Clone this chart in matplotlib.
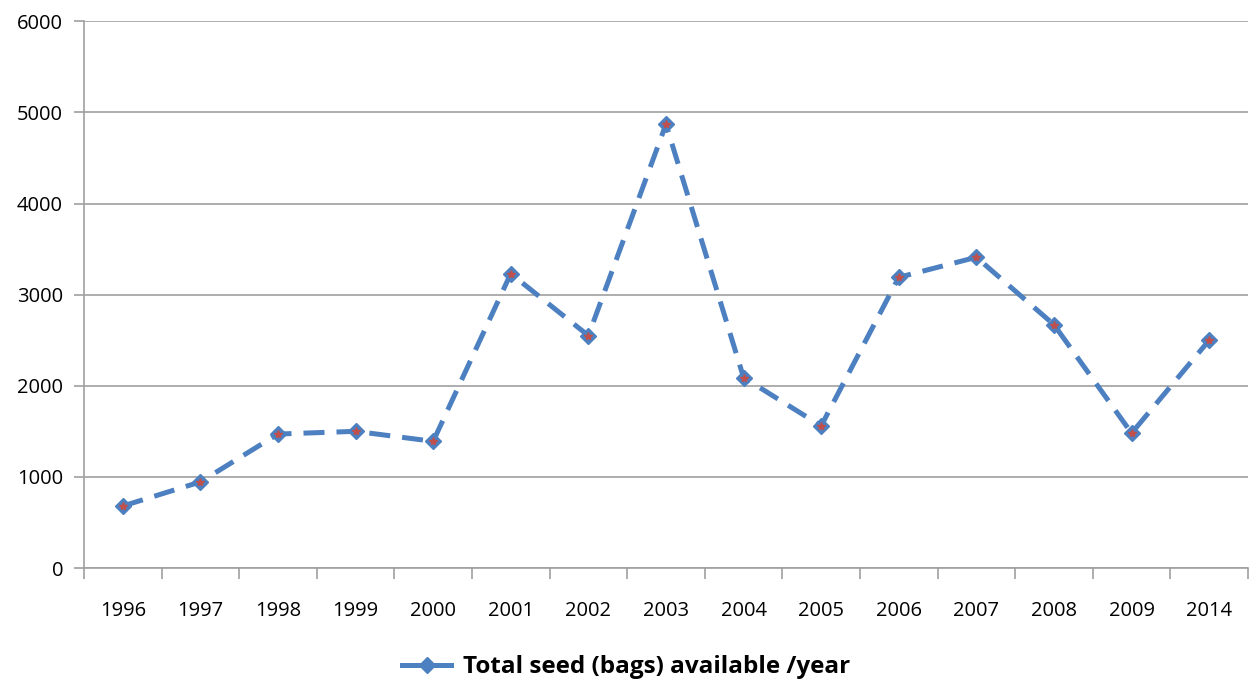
import matplotlib.pyplot as plt
import numpy as np
from matplotlib.lines import Line2D

years = ["1996", "1997", "1998", "1999", "2000", "2001", "2002", "2003",
         "2004", "2005", "2006", "2007", "2008", "2009", "2014"]
seed_bags = [680, 945, 1470, 1500, 1390, 3230, 2550, 4870,
             2090, 1560, 3190, 3410, 2670, 1480, 2500]

plt.rcParams['font.family'] = ['Open Sans', 'DejaVu Sans']

fig = plt.figure(figsize=(12.53, 6.86), dpi=100)
ax = fig.add_axes([0.067, 0.172, 0.929, 0.797])

x = np.arange(len(years))
line_col = '#4d80c0'
ax.plot(x, seed_bags, color=line_col, linewidth=3.6, linestyle=(0, (4.2, 2.4)),
        marker='D', markersize=8, markerfacecolor=line_col, markeredgecolor=line_col,
        label='Total seed (bags) available /year', zorder=3)
ax.plot(x, seed_bags, linestyle='none', marker='*', markersize=6,
        color='#c0504d', zorder=4)

ax.set_xlim(-0.5, len(years) - 0.5)
ax.set_ylim(0, 6000)
ax.set_yticks(range(0, 6001, 1000))
ax.set_xticks(x)
ax.set_xticklabels(years)
ax.set_xticks(np.arange(-0.5, len(years), 1), minor=True)

ax.yaxis.grid(True, color='#a0a0a0', linewidth=1.2)
ax.set_axisbelow(True)
for s in ['top', 'right']:
    ax.spines[s].set_visible(False)
for s in ['left', 'bottom']:
    ax.spines[s].set_color('#a0a0a0')
    ax.spines[s].set_linewidth(1.2)

ax.tick_params(axis='x', which='major', length=0, pad=24, labelsize=14.5)
ax.tick_params(axis='x', which='minor', length=8, color='#a0a0a0', width=1.2)
ax.tick_params(axis='y', length=7, color='#a0a0a0', width=1.2, labelsize=14.5, pad=8)

h = Line2D([], [], color=line_col, linewidth=3.6, linestyle='-',
           marker='D', markersize=8, markerfacecolor=line_col, markeredgecolor=line_col)
fig.legend([h], ['Total seed (bags) available /year'], loc='center',
           bbox_to_anchor=(0.5, 0.027), frameon=False,
           prop={'size': 17.5, 'weight': 'bold'}, handlelength=2.0, handletextpad=0.5)

plt.savefig('out.png', dpi=100)
